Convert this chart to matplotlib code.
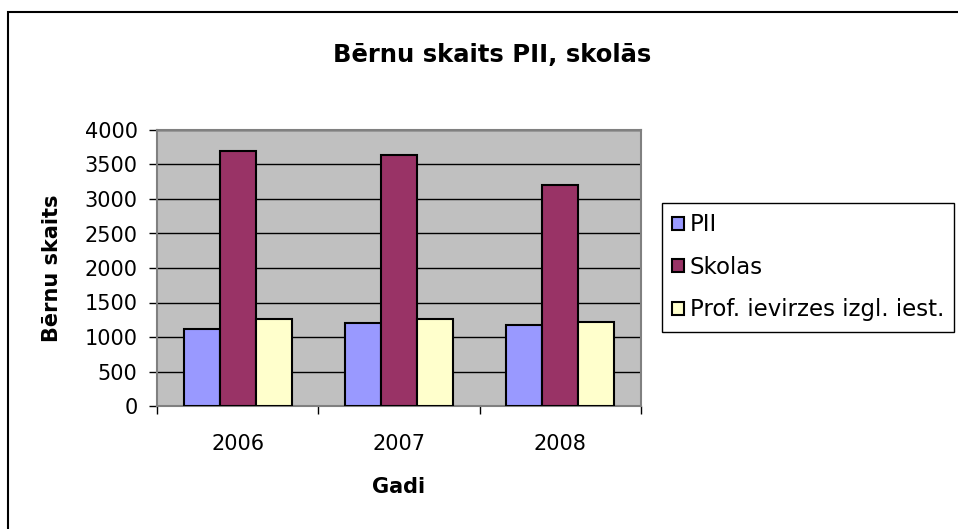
import matplotlib
matplotlib.use("Agg")
import matplotlib.pyplot as plt
import numpy as np
from matplotlib.patches import Rectangle

plt.rcParams['font.family'] = ['DejaVu Sans']

years = ["2006", "2007", "2008"]
series_names = ["PII", "Skolas", "Prof. ievirzes izgl. iest."]
pii = [1120, 1210, 1180]
skolas = [3700, 3640, 3210]
prof = [1265, 1260, 1215]
colors = ["#9999FF", "#993366", "#FFFFCC"]
yticks = [0, 500, 1000, 1500, 2000, 2500, 3000, 3500, 4000]

fig = plt.figure(figsize=(9.58, 5.29), dpi=100)
W, H = 958, 529

# outer chart frame
fig.patches.append(Rectangle((8 / W, -0.05), 1.0, 1 - 12 / H + 0.05,
                             transform=fig.transFigure, fill=False,
                             edgecolor="black", linewidth=1.5))

ax = fig.add_axes([157 / W, 1 - 406 / H, (641 - 157) / W, (406 - 130) / H])
ax.set_facecolor("#C0C0C0")

x = np.arange(len(years))
bw = 0.223
for i, (vals, name, c) in enumerate(zip([pii, skolas, prof], series_names, colors)):
    ax.bar(x + (i - 1) * bw, vals, width=bw, color=c, edgecolor="black",
           linewidth=1.5, label=name, zorder=3)

ax.set_xlim(-0.5, 2.5)
ax.set_ylim(0, 4000)
ax.set_yticks(yticks)
ax.set_yticklabels([str(v) for v in yticks], fontsize=15)
ax.set_xticks(x)
ax.set_xticklabels(years, fontsize=15)
ax.set_xticks([-0.5, 0.5, 1.5, 2.5], minor=True)
ax.tick_params(axis="x", which="major", length=0, pad=20)
ax.tick_params(axis="x", which="minor", length=6, width=1, direction="out")
ax.tick_params(axis="y", length=6, width=1, direction="out", pad=8)
ax.yaxis.grid(True, color="black", linewidth=1, zorder=1)
ax.set_axisbelow(True)
for s in ["top", "right", "left", "bottom"]:
    ax.spines[s].set_color("#808080")
    ax.spines[s].set_linewidth(1.5)

ax.set_xlabel("Gadi", fontsize=15, fontweight="bold", labelpad=17)
ax.set_ylabel("Bērnu skaits", fontsize=15, fontweight="bold", labelpad=16)

fig.text(492 / W, 1 - 55 / H, "Bērnu skaits PII, skolās", fontsize=17.5,
         fontweight="bold", ha="center", va="center")

leg = fig.legend(loc="upper left", bbox_to_anchor=(662 / W, 1 - 203 / H),
                 fontsize=16.5, frameon=True, fancybox=False, framealpha=1,
                 edgecolor="black", handlelength=0.5, handleheight=0.5,
                 handletextpad=0.25, labelspacing=0.85, borderpad=0.45,
                 borderaxespad=0)
leg.get_frame().set_linewidth(1)

fig.savefig("out.png", dpi=100)
